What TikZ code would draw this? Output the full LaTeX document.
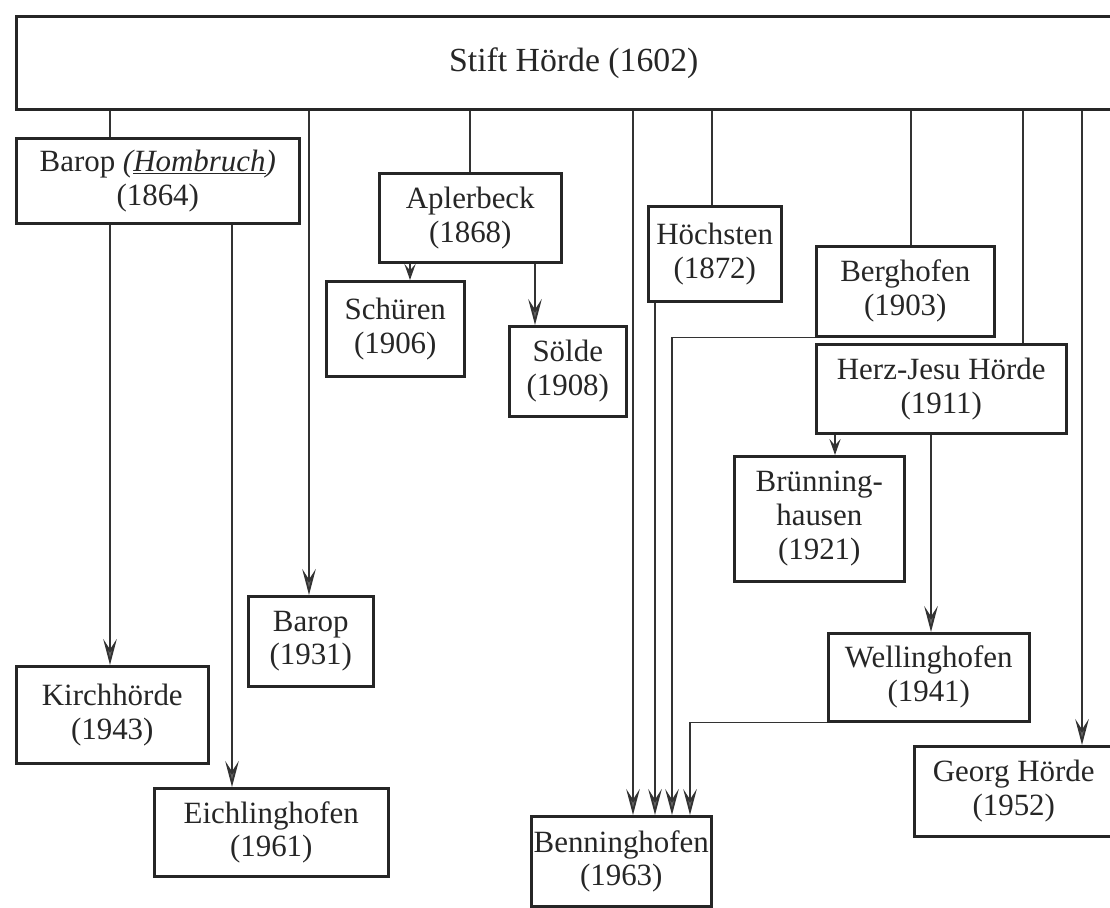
\documentclass[tikz,border=0pt]{standalone}
\usepackage{fontspec}
\setmainfont{Liberation Serif}
\usetikzlibrary{arrows.meta,positioning}

\tikzset{
  box/.style={draw=black!85, line width=1.8pt, align=center, inner sep=0pt,
    anchor=north west, text=black!85, font=\fontsize{22}{24}\selectfont},
  sz/.style 2 args={minimum width=#1*0.025cm, minimum height=#2*0.025cm},
  link/.style={draw=black!80, line width=1.3pt},
  arr/.style={link, -{Stealth[length=6.5mm,width=3.4mm,inset=2.6mm,fill=black!60]}},
  arrs/.style={link, -{Stealth[length=4mm,width=2.8mm,inset=1.6mm,fill=black!60]}},
}

\begin{document}
\begin{tikzpicture}[x=0.025cm,y=-0.025cm]

\useasboundingbox (0,0) rectangle (1110,907);
\clip (0,0) rectangle (1110,907);

% Boxes
\node[box, sz={1115}{93}, font=\fontsize{24}{26}\selectfont] (stift) at (15,15) {Stift Hörde (1602)};

\node[box, sz={283}{85}] (hombruch) at (15,137)
  {Barop \textit{(\underline{Hombruch})}\\(1864)};
\node[box, sz={192}{97}] (kirch) at (15,665) {Kirchhörde\\(1943)};
\node[box, sz={234}{88}] (eichl) at (153,787) {Eichlinghofen\\(1961)};
\node[box, sz={125}{90}] (barop) at (247,595) {Barop\\(1931)};

\node[box, sz={182}{89}] (apler) at (378,172) {Aplerbeck\\(1868)};
\node[box, sz={138}{95}] (schueren) at (325,280) {Schüren\\(1906)};
\node[box, sz={117}{90}] (soelde) at (508,325) {Sölde\\(1908)};

\node[box, sz={133}{95}] (hoechst) at (647,205) {Höchsten\\(1872)};
\node[box, sz={178}{90}] (bergh) at (815,245) {Berghofen\\(1903)};
\node[box, sz={250}{89}] (herz) at (815,343) {Herz-Jesu Hörde\\(1911)};
\node[box, sz={170}{125}] (bruenn) at (733,455) {Brünning-\\hausen\\(1921)};
\node[box, sz={201}{88}] (welling) at (827,632) {Wellinghofen\\(1941)};
\node[box, sz={199}{90}] (georg) at (913,745) {Georg Hörde\\(1952)};
\node[box, sz={180}{90}] (benning) at (530,815) {Benninghofen\\(1963)};

% From Stift
\foreach \x/\t in {110/hombruch, 470/apler, 712/hoechst, 911/bergh, 1023/herz}
  \draw[link] (stift.south -| \x,0) -- (\t.north -| \x,0);
\draw[arr] (stift.south -| 309,0) -- (barop.north -| 309,0);
\draw[arr] (stift.south -| 633,0) -- (benning.north -| 633,0);
\draw[arr] (stift.south -| 1082,0) -- (georg.north -| 1082,0);

% Daughters
\draw[arr] (hombruch.south -| 110,0) -- (kirch.north -| 110,0);
\draw[arr] (hombruch.south -| 232,0) -- (eichl.north -| 232,0);
\draw[arrs] (apler.south -| 410,0) -- (schueren.north -| 410,0);
\draw[arr] (apler.south -| 535,0) -- (soelde.north -| 535,0);
\draw[arr] (hoechst.south -| 655,0) -- (benning.north -| 655,0);
\draw[arr] (bergh.south west) -| (benning.north -| 672,0);
\draw[arrs] (herz.south -| 835,0) -- (bruenn.north -| 835,0);
\draw[arr] (herz.south -| 931,0) -- (welling.north -| 931,0);
\draw[arr] (welling.south west) -| (benning.north -| 690,0);

\end{tikzpicture}
\end{document}
